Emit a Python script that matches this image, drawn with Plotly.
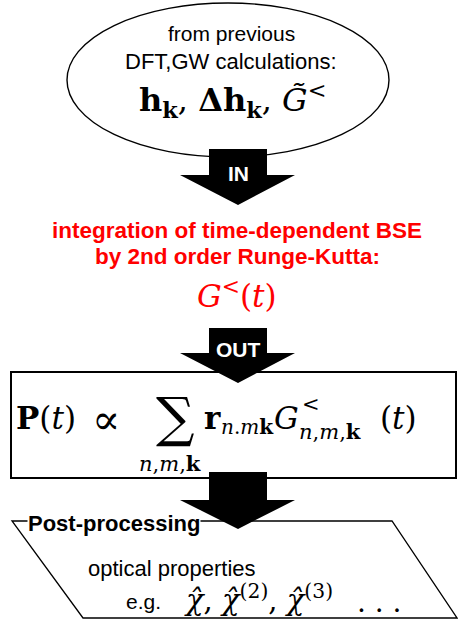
import plotly.graph_objects as go

# ---- diagram content ----
source_lines = ["from previous", "DFT,GW calculations:"]
source_math = "<b>h</b><sub><b>k</b></sub>, <b>Δh</b><sub><b>k</b></sub>, <i>G̃</i><sup>&lt;</sup>"
in_label = "IN"
out_label = "OUT"
method_lines = ["integration of time-dependent BSE", "by 2nd order Runge-Kutta:"]
method_math = "<i>G</i><sup>&lt;</sup>(<i>t</i>)"
post_title = "Post-processing"
post_lines = ["optical properties", "e.g."]
chi_orders = ["", "(2)", "(3)"]

W, H = 458, 623
SANS = "Liberation Sans, Arial, sans-serif"
SERIF = "DejaVu Serif, Liberation Serif, serif"
RED = "#ff0000"

fig = go.Figure()
fig.add_trace(go.Scatter(x=[0, W], y=[0, H], mode="markers", marker=dict(opacity=0), hoverinfo="skip", showlegend=False))

shapes = []
shapes.append(dict(type="circle", x0=67, x1=389, y0=3, y1=157, line=dict(color="black", width=1.4), fillcolor="white", layer="above"))
shapes.append(dict(type="rect", x0=11, x1=456, y0=372, y1=478, line=dict(color="black", width=2), fillcolor="white", layer="above"))
shapes.append(dict(type="path", path="M 12 521 L 392 521 L 457 618 L 83 618 Z", line=dict(color="black", width=1.3), fillcolor="white", layer="above"))


def arrow(top, head_y, tip_y):
    return dict(type="path",
                path=f"M 209 {top} L 267 {top} L 267 {head_y} L 295 {head_y} L 238 {tip_y} L 180 {head_y} L 209 {head_y} Z",
                line=dict(color="black", width=0), fillcolor="black", layer="above")

shapes.append(arrow(149, 175, 205))
shapes.append(arrow(328, 353, 383))
shapes.append(arrow(472, 500, 529))

ann = []
def t(x, y, text, size, font=SERIF, color="black", xanchor="center", **kw):
    ann.append(dict(x=x, y=y, xref="x", yref="y", text=text, showarrow=False,
                    font=dict(family=font, size=size, color=color), xanchor=xanchor, yanchor="middle", **kw))

# ellipse text
t(231, 33, source_lines[0], 21, SANS)
t(231, 61, source_lines[1], 22, SANS)
t(232, 100, source_math, 32)
# arrow labels
t(238, 173, f"<b>{in_label}</b>", 21, SANS, color="white")
t(238, 349, f"<b>{out_label}</b>", 21, SANS, color="white")
# method
t(237, 230, f"<b>{method_lines[0]}</b>", 22.5, SANS, color=RED)
t(237, 256, f"<b>{method_lines[1]}</b>", 22.5, SANS, color=RED)
t(237, 294, method_math, 31, color=RED)
# box equation
t(14, 418, "<b>P</b>(<i>t</i>)", 31, xanchor="left")
t(106, 419, "∝", 42)
t(175, 417, "∑", 54)
t(170, 463, "<i>n</i>,<i>m</i>,<b>k</b>", 21)
t(202, 418, "<b>r</b>", 31, xanchor="left")
t(219, 427, "<i>n</i>.<i>m</i><b>k</b>", 20, xanchor="left")
t(272, 418, "<i>G</i>", 31, xanchor="left")
t(300, 404, "&lt;", 21, xanchor="left")
t(297, 431, "<i>n</i>,<i>m</i>,<b>k</b>", 21, xanchor="left")
t(378, 418, "(<i>t</i>)", 31, xanchor="left")
# post-processing
t(27, 523, f"<b>{post_title}</b>", 22, SANS, xanchor="left", bgcolor="white", borderpad=0)
t(86, 568, post_lines[0], 22, SANS, xanchor="left")
t(124, 601, post_lines[1], 21, SANS, xanchor="left")
chi_text = ", ".join(f"<i>χ̂</i>" + (f"<sup>{o}</sup>" if o else "") for o in chi_orders)
t(182, 598, chi_text, 29, xanchor="left")
t(379, 602, ". . .", 28)

fig.update_layout(
    width=W, height=H, margin=dict(l=0, r=0, t=0, b=0),
    paper_bgcolor="white", plot_bgcolor="white",
    xaxis=dict(range=[0, W], visible=False, fixedrange=True),
    yaxis=dict(range=[H, 0], visible=False, fixedrange=True),
    shapes=shapes, annotations=ann, showlegend=False,
)
fig.write_html("out.html", config={"displayModeBar": False},
               post_script="document.body.style.margin='0px';document.body.style.overflow='hidden';")
